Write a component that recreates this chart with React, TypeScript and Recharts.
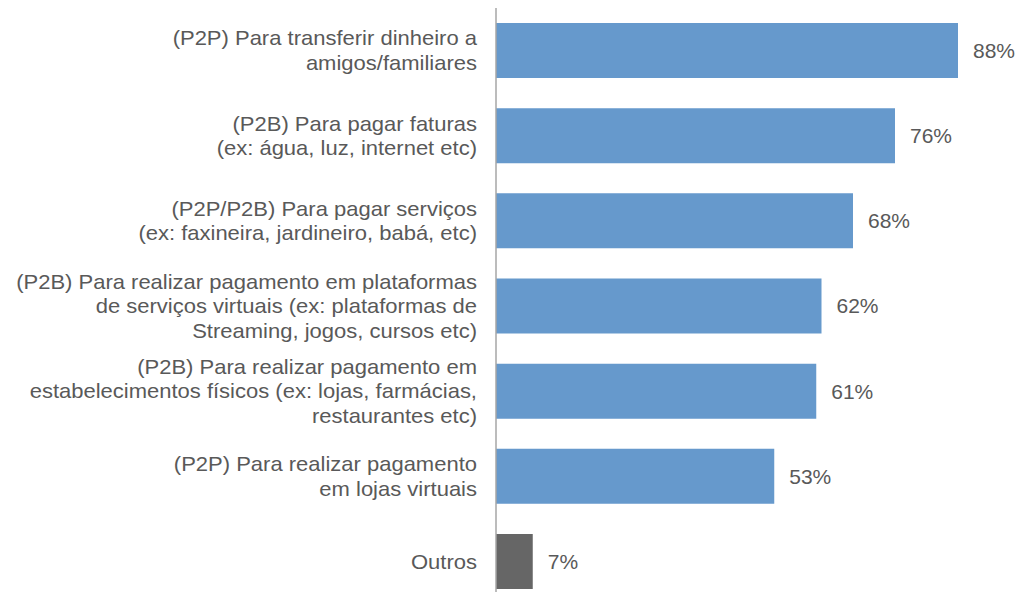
import React from "react";
import { BarChart, Bar, XAxis, YAxis, Cell, LabelList } from "recharts";

const categories = [
  "(P2P) Para transferir dinheiro a\namigos/familiares",
  "(P2B) Para pagar faturas\n(ex: água, luz, internet etc)",
  "(P2P/P2B) Para pagar serviços\n(ex: faxineira, jardineiro, babá, etc)",
  "(P2B) Para realizar pagamento em plataformas\nde serviços virtuais (ex: plataformas de\nStreaming, jogos, cursos etc)",
  "(P2B) Para realizar pagamento em\nestabelecimentos físicos (ex: lojas, farmácias,\nrestaurantes etc)",
  "(P2P) Para realizar pagamento\nem lojas virtuais",
  "Outros",
];
const values = [88, 76, 68, 62, 61, 53, 7];
const barColors = ["#6699CC", "#6699CC", "#6699CC", "#6699CC", "#6699CC", "#6699CC", "#666666"];

const data = categories.map((c, i) => ({ name: c, value: values[i], color: barColors[i] }));

const FONT = "'Liberation Sans', Arial, sans-serif";

const CategoryTick = (props: any) => {
  const { x, y, payload } = props;
  const lines = String(payload.value).split("\n");
  const lh = 24.5;
  const start = -((lines.length - 1) * lh) / 2;
  return (
    <g transform={`translate(${x},${y}) scale(1.1,1)`}>
      {lines.map((l: string, i: number) => (
        <text
          key={i}
          x={0}
          y={start + i * lh}
          dy="0.355em"
          textAnchor="end"
          fill="#595959"
          fontSize={20}
          fontFamily={FONT}
        >
          {l}
        </text>
      ))}
    </g>
  );
};

const ValueLabel = (props: any) => {
  const { x, y, width, height, value } = props;
  const tx = Number(x) + Number(width) + 15;
  const ty = Number(y) + Number(height) / 2;
  return (
    <text x={tx} y={ty} dy="0.355em" textAnchor="start" fill="#595959" fontSize={21} fontFamily={FONT}>
      {`${value}%`}
    </text>
  );
};

export default function App() {
  return (
    <div style={{ width: 1017, height: 592, marginBottom: -8, overflow: "hidden" }}>
      <BarChart
        width={1017}
        height={596}
        data={data}
        layout="vertical"
        margin={{ top: 0, right: 4, bottom: 0, left: 0 }}
        barCategoryGap="17.7%"
        style={{ overflow: "visible" }}
      >
        <XAxis type="number" domain={[0, 100]} hide />
        <YAxis
          type="category"
          dataKey="name"
          width={488}
          axisLine={{ stroke: "#A6A6A6", strokeWidth: 1.5 }}
          tickLine={false}
          tickSize={0}
          tickMargin={19}
          tick={<CategoryTick />}
          interval={0}
        />
        <Bar dataKey="value" isAnimationActive={false}>
          {data.map((d, i) => (
            <Cell key={i} fill={d.color} />
          ))}
          <LabelList dataKey="value" content={<ValueLabel />} />
        </Bar>
      </BarChart>
    </div>
  );
}
